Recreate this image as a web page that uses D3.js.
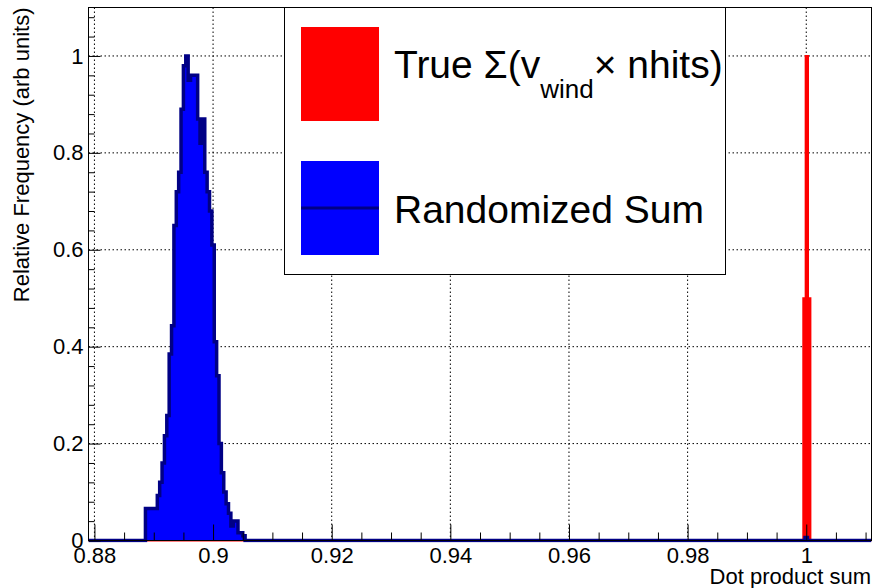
<!DOCTYPE html>
<html>
<head>
<meta charset="utf-8">
<script src="https://cdn.jsdelivr.net/npm/d3@7"></script>
<style>
body { margin: 0; background: #fff; }
text { font-family: "Liberation Sans", Arial, Helvetica, sans-serif; fill: #000; }
</style>
</head>
<body>
<svg width="874" height="588"></svg>
<script>
// axis ranges (same as the histogram range)
var xRange = [0.879, 1.011];
var yRange = [0, 1.1];
var binWidth = 0.0004;

// randomized sum: contiguous bins from blueStart
var blueStart = 0.8886;
var blueCounts = [0.066, 0.066, 0.066, 0.066, 0.066, 0.093, 0.12, 0.16, 0.216, 0.258,
    0.385, 0.443, 0.65, 0.72, 0.76, 0.89, 0.98, 1.0, 0.95, 0.96,
    0.96, 0.96, 0.87, 0.82, 0.87, 0.76, 0.72, 0.68, 0.61, 0.41,
    0.34, 0.20, 0.14, 0.10, 0.076, 0.056, 0.03, 0.04, 0.04, 0.016,
    0.016, 0.01];
// the few randomized entries that land near 1
var blueTailStart = 0.9998;
var blueTailCounts = [0.006];

// true sum
var redStart = 0.9995;
var redCounts = [0.5, 1.0, 0.5];

var xTicks = [0.88, 0.9, 0.92, 0.94, 0.96, 0.98, 1];
var yTicks = [0, 0.2, 0.4, 0.6, 0.8, 1];
var xTitle = "Dot product sum";
var yTitle = "Relative Frequency (arb units)";
var legendNames = ["True \u03A3(v", "wind", "\u00D7 nhits)", "Randomized Sum"];

var svg = d3.select("svg"),
    margin = {top: 7.5, right: 2.5, bottom: 47.5, left: 88.5},
    width = +svg.attr("width") - margin.left - margin.right,
    height = +svg.attr("height") - margin.top - margin.bottom;

var x = d3.scaleLinear().domain(xRange).range([0, width]),
    y = d3.scaleLinear().domain(yRange).range([height, 0]);

var g = svg.append("g")
    .attr("transform", "translate(" + margin.left + "," + margin.top + ")");

svg.append("defs").append("clipPath")
    .attr("id", "clip")
    .append("rect")
    .attr("width", width)
    .attr("height", height + 2);

// grid
g.append("g").selectAll("line")
    .data(xTicks)
    .enter().append("line")
    .attr("x1", function (d) { return x(d); })
    .attr("x2", function (d) { return x(d); })
    .attr("y1", 0)
    .attr("y2", height)
    .attr("stroke", "#000")
    .attr("stroke-dasharray", "1.5,2.5");

g.append("g").selectAll("line")
    .data(yTicks.filter(function (d) { return d > 0; }))
    .enter().append("line")
    .attr("x1", 0)
    .attr("x2", width)
    .attr("y1", function (d) { return y(d); })
    .attr("y2", function (d) { return y(d); })
    .attr("stroke", "#000")
    .attr("stroke-dasharray", "1.5,2.5");

// step points for a histogram made of runs of contiguous bins
function stepPoints(runs) {
    var pts = [[xRange[0], 0]];
    runs.forEach(function (r) {
        r.counts.forEach(function (c, i) { pts.push([r.start + i * binWidth, c]); });
        pts.push([r.start + r.counts.length * binWidth, 0]);
    });
    pts.push([xRange[1], 0]);
    return pts;
}

var area = d3.area()
    .curve(d3.curveStepAfter)
    .x(function (d) { return x(d[0]); })
    .y0(y(0))
    .y1(function (d) { return y(d[1]); });

var line = d3.line()
    .curve(d3.curveStepAfter)
    .x(function (d) { return x(d[0]); })
    .y(function (d) { return y(d[1]); });

var hists = g.append("g").attr("clip-path", "url(#clip)");

var redPts = stepPoints([{start: redStart, counts: redCounts}]);
hists.append("path").datum(redPts)
    .attr("d", area)
    .attr("fill", "#ff0000");
hists.append("path").datum(redPts)
    .attr("d", line)
    .attr("fill", "none")
    .attr("stroke", "#ff0000")
    .attr("stroke-width", 2);

var bluePts = stepPoints([
    {start: blueStart, counts: blueCounts},
    {start: blueTailStart, counts: blueTailCounts}
]);
hists.append("path").datum(bluePts)
    .attr("d", area)
    .attr("fill", "#0000ff");
hists.append("path").datum(bluePts)
    .attr("d", line)
    .attr("fill", "none")
    .attr("stroke", "#000085")
    .attr("stroke-width", 3.5)
    .attr("stroke-linejoin", "miter");

// frame
g.append("rect")
    .attr("width", width)
    .attr("height", height)
    .attr("fill", "none")
    .attr("stroke", "#000");

// axes, ticks point inward
var xMinor = d3.range(0.88, 1.0111, 0.005).filter(function (v) {
    return xTicks.every(function (t) { return Math.abs(t - v) > 1e-6; });
});
var yMinor = d3.range(0, 1.1001, 0.04).filter(function (v) {
    return yTicks.every(function (t) { return Math.abs(t - v) > 1e-6; });
});

var xAxis = g.append("g")
    .attr("transform", "translate(0," + height + ")")
    .call(d3.axisBottom(x).tickValues(xTicks).tickSize(-16).tickPadding(7)
        .tickFormat(function (d) { return String(d); }));
g.append("g")
    .attr("transform", "translate(0," + height + ")")
    .call(d3.axisBottom(x).tickValues(xMinor).tickSize(-8).tickFormat(""));

var yAxis = g.append("g")
    .call(d3.axisLeft(y).tickValues(yTicks).tickSize(-12).tickPadding(5)
        .tickFormat(function (d) { return String(d); }));
g.append("g")
    .call(d3.axisLeft(y).tickValues(yMinor).tickSize(-6).tickFormat(""));

g.selectAll(".domain").remove();
g.selectAll(".tick line").attr("stroke", "#000");
g.selectAll(".tick text")
    .attr("font-size", 22)
    .attr("font-family", "Liberation Sans, Arial, sans-serif")
    .attr("fill", "#000");

// axis titles
svg.append("text")
    .attr("x", 871)
    .attr("y", 584)
    .attr("text-anchor", "end")
    .attr("font-size", 22)
    .text(xTitle);

svg.append("text")
    .attr("transform", "translate(29," + margin.top + ") rotate(-90)")
    .attr("text-anchor", "end")
    .attr("font-size", 22)
    .text(yTitle);

// legend
var legend = svg.append("g");
legend.append("rect")
    .attr("x", 284.5).attr("y", 7.5)
    .attr("width", 441).attr("height", 267)
    .attr("fill", "#fff")
    .attr("stroke", "#000");

legend.append("rect")
    .attr("x", 301).attr("y", 27)
    .attr("width", 78).attr("height", 94)
    .attr("fill", "#ff0000");

legend.append("rect")
    .attr("x", 301).attr("y", 161)
    .attr("width", 78).attr("height", 94)
    .attr("fill", "#0000ff");
legend.append("line")
    .attr("x1", 301).attr("x2", 379)
    .attr("y1", 208).attr("y2", 208)
    .attr("stroke", "#000085")
    .attr("stroke-width", 3);

var t1 = legend.append("text")
    .attr("x", 394).attr("y", 78)
    .attr("font-size", 39);
t1.append("tspan").text(legendNames[0]);
t1.append("tspan").attr("font-size", 26).attr("dy", 20).text(legendNames[1]);
t1.append("tspan").attr("dy", -20).text(legendNames[2]);

legend.append("text")
    .attr("x", 394).attr("y", 223)
    .attr("font-size", 39)
    .text(legendNames[3]);
</script>
</body>
</html>
